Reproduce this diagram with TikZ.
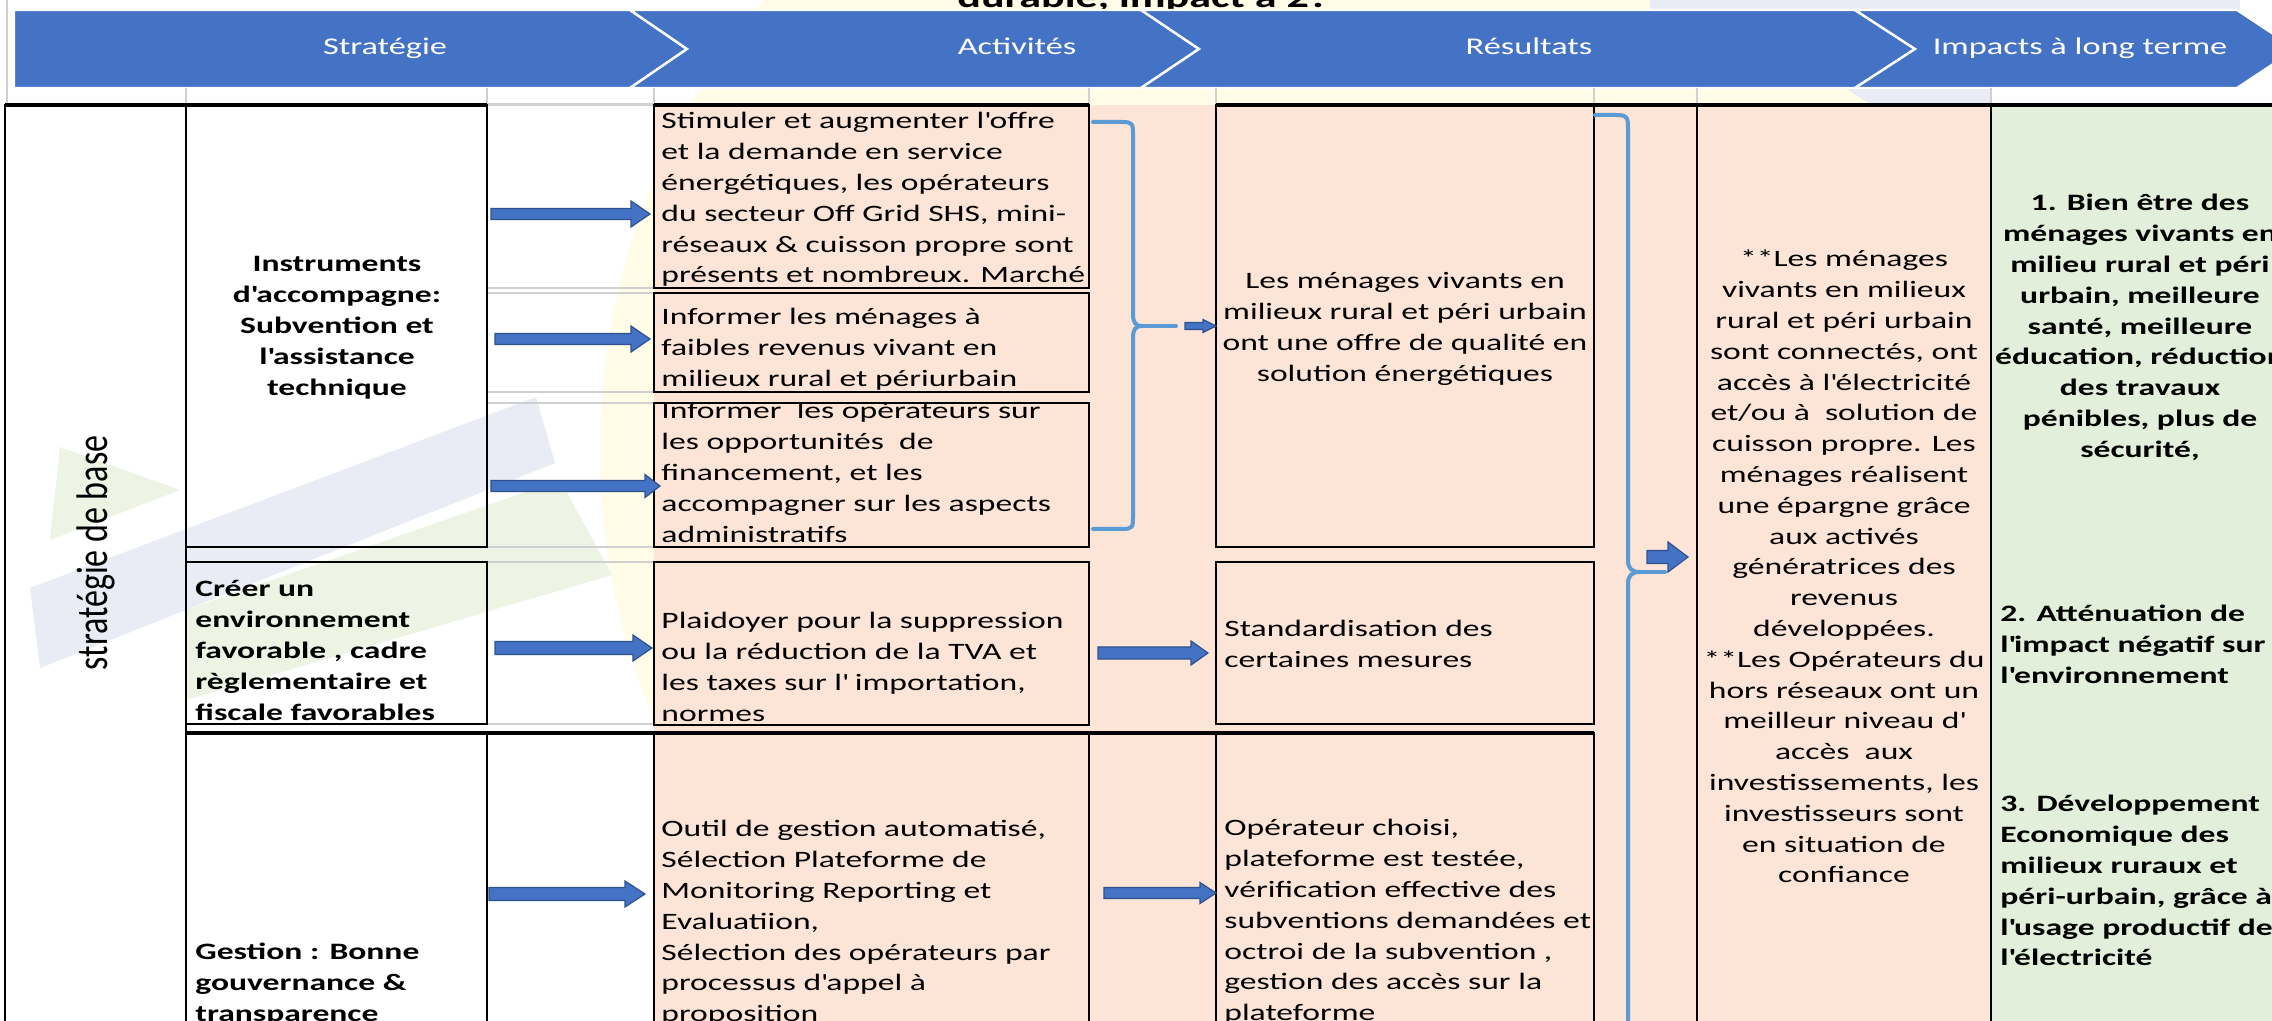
\documentclass[tikz,border=0pt]{standalone}
\usepackage{graphicx}
\usepackage{fontspec}
\setmainfont{Carlito}[FakeStretch=1.43]
\newfontfamily\labelfont{Carlito}
\definecolor{bannerblue}{HTML}{4472C4}
\definecolor{peach}{HTML}{FCE4D6}
\definecolor{greenfill}{HTML}{E2EFDA}
\definecolor{arrowblue}{HTML}{4472C4}
\definecolor{arrowedge}{HTML}{2F528F}
\definecolor{bracec}{HTML}{5B9BD5}
\definecolor{gridgrey}{HTML}{D0D0D0}
\definecolor{wmyellow}{HTML}{FFFDE8}
\definecolor{wmblue}{HTML}{E9ECF4}
\definecolor{wmgreen}{HTML}{EDF4E3}
\newcommand{\aq}{\textquotesingle}
\newcommand{\blkarrow}[6]{%
  \filldraw[blockarrow] (#1,{#4-#5}) -- (#2,{#4-#5}) -- (#2,{#4-#6}) -- (#3,#4) -- (#2,{#4+#6}) -- (#2,{#4+#5}) -- (#1,{#4+#5}) -- cycle;}
\begin{document}
\begin{tikzpicture}[x=0.5pt,y=-0.5pt,
  body/.style={inner sep=0pt, font=\fontsize{11.75pt}{15.4pt}\selectfont},
  bodyb/.style={inner sep=0pt, font=\fontsize{11.75pt}{15.4pt}\selectfont\bfseries},
  bannertxt/.style={inner sep=0pt, text=white, font=\fontsize{12pt}{14pt}\selectfont},
  seg/.style={fill=bannerblue, draw=white, line width=1.2pt, line join=miter},
  blk/.style={draw=black, line width=1.4pt},
  thickblk/.style={draw=black, line width=2.2pt},
  gridl/.style={draw=gridgrey, line width=1pt},
  bracel/.style={draw=bracec, line width=2pt, line cap=round},
  blockarrow/.style={fill=arrowblue, draw=arrowedge, line width=0.6pt, line join=miter}
]
\useasboundingbox (0,0) rectangle (2272,1021);
\clip (0,0) rectangle (2272,1021);
\fill[white] (0,0) rectangle (2272,1021);
% watermark
\fill[wmyellow] (1300,450) circle[radius=350pt];
\fill[wmblue] (30,588) -- (536,397) -- (555,463) -- (40,668) -- cycle;
\fill[wmgreen] (60,447) -- (180,490) -- (50,540) -- cycle;
\fill[wmgreen] (186,610) -- (560,480) -- (612,575) -- (186,700) -- cycle;
\fill[wmblue] (1845,88) -- (1990,88) -- (1990,104) -- (1870,104) -- cycle;
\fill[wmblue] (1650,0) rectangle (2240,10);

% title (cut at top)
\node[inner sep=0pt, anchor=base west, font=\fontsize{15.4pt}{18pt}\selectfont\bfseries] (title) at (957,8) {durable, impact à 2?};

% banner
\path[seg] (14,10) -- (630,10) -- (687,49) -- (630,88) -- (14,88) -- cycle;
\path[seg] (630,10) -- (1141,10) -- (1199,49) -- (1141,88) -- (630,88) -- (687,49) -- cycle;
\path[seg] (1141,10) -- (1855,10) -- (1915,49) -- (1855,88) -- (1141,88) -- (1199,49) -- cycle;
\path[seg] (1855,10) -- (2237,10) -- (2296,49) -- (2237,88) -- (1855,88) -- (1915,49) -- cycle;
\node[bannertxt, anchor=base] (bStrat) at (385,55) {Stratégie};
\node[bannertxt, anchor=base] (bAct) at (1017,55) {Activités};
\node[bannertxt, anchor=base] (bRes) at (1529,55) {Résultats};
\node[bannertxt, anchor=base] (bImp) at (2080,55) {Impacts à long terme};

% fills
\fill[peach] (654,105) rectangle (1991,1030);
\fill[greenfill] (1991,105) rectangle (2280,1030);

% grey grid lines
\foreach \gx in {186,487,654,1089,1216,1594,1697,1991} {\draw[gridl] (\gx,88) -- (\gx,105);}
\draw[gridl] (7,0) -- (7,105);
\foreach \gy in {288,293,392,403,547,562,724} {\draw[gridl] (487,\gy) -- (654,\gy);}
\draw[gridgrey, line width=1.5pt] (487,105) -- (654,105);

% rotated label
\node[rotate=90, inner sep=0pt, font=\labelfont\fontsize{17pt}{19pt}\selectfont] (lbl) at (96,553) {\scalebox{1}[1.3]{stratégie de base}};

% strategy texts
\node[bodyb, anchor=north, align=center] (sInst) at (337,250) {\strut Instruments\\ d\aq accompagne:\\ Subvention et\\ l\aq assistance\\ technique\strut};
\node[bodyb, anchor=north west, align=left] (sCreer) at (195,575) {\strut Créer un\\ environnement\\ favorable , cadre\\ règlementaire et\\ fiscale favorables\strut};
\node[bodyb, anchor=north west, align=left] (sGest) at (195,938) {\strut Gestion : Bonne\\ gouvernance \&\\ transparence\strut};

% activities texts
\begin{scope}
\clip (654,105) rectangle (1089,288);
\node[body, anchor=north west, align=left] (aStim) at (661,107) {\strut Stimuler et augmenter l\aq offre\\ et la demande en service\\ énergétiques, les opérateurs\\ du secteur Off Grid SHS, mini-\\ réseaux \& cuisson propre sont\\ présents et nombreux. Marché\strut};
\end{scope}
\node[body, anchor=north west, align=left] (aInf1) at (661,303) {\strut Informer les ménages à\\ faibles revenus vivant en\\ milieux rural et périurbain\strut};
\begin{scope}
\clip (654,403) rectangle (1089,547);
\node[body, anchor=north west, align=left] (aInf2) at (661,397) {\strut Informer\ \ les opérateurs sur\\ les opportunités\ \ de\\ financement, et les\\ accompagner sur les aspects\\ administratifs\strut};
\end{scope}
\node[body, anchor=north west, align=left] (aPlai) at (661,607) {\strut Plaidoyer pour la suppression\\ ou la réduction de la TVA et\\ les taxes sur l\aq{} importation,\\ normes\strut};
\node[body, anchor=north west, align=left] (aOutil) at (661,815) {\strut Outil de gestion automatisé,\\ Sélection Plateforme de\\ Monitoring Reporting et\\ Evaluatiion,\\ Sélection des opérateurs par\\ processus d\aq appel à\\ proposition\strut};

% results texts
\node[body, anchor=north, align=center] (rLes) at (1405,267) {\strut Les ménages vivants en\\ milieux rural et péri urbain\\ ont une offre de qualité en\\ solution énergétiques\strut};
\node[body, anchor=north west, align=left] (rStand) at (1224,615) {\strut Standardisation des\\ certaines mesures\strut};
\node[body, anchor=north west, align=left] (rOper) at (1224,814) {\strut Opérateur choisi,\\ plateforme est testée,\\ vérification effective des\\ subventions demandées et\\ octroi de la subvention ,\\ gestion des accès sur la\\ plateforme\strut};

% middle column
\node[body, anchor=north, align=center] (mLes) at (1844,245) {\strut **Les ménages\\ vivants en milieux\\ rural et péri urbain\\ sont connectés, ont\\ accès à l\aq électricité\\ et/ou à\ \ solution de\\ cuisson propre. Les\\ ménages réalisent\\ une épargne grâce\\ aux activés\\ génératrices des\\ revenus\\ développées.\\ **Les Opérateurs du\\ hors réseaux ont un\\ meilleur niveau d\aq\\ accès\ \ aux\\ investissements, les\\ investisseurs sont\\ en situation de\\ confiance\strut};

% impacts column
\node[bodyb, anchor=north, align=center] (g1) at (2140,189) {\strut 1. Bien être des\\ ménages vivants en\\ milieu rural et péri\\ urbain, meilleure\\ santé, meilleure\\ éducation, réduction\\ des travaux\\ pénibles, plus de\\ sécurité,\strut};
\node[bodyb, anchor=north west, align=left] (g2) at (2000,600) {\strut 2. Atténuation de\\ l\aq impact négatif sur\\ l\aq environnement\strut};
\node[bodyb, anchor=north west, align=left] (g3) at (2000,790) {\strut 3. Développement\\ Economique des\\ milieux ruraux et\\ péri-urbain, grâce à\\ l\aq usage productif de\\ l\aq électricité\strut};

% black borders
\draw[blk] (5,105) rectangle (186,1030);
\draw[blk] (186,105) rectangle (487,547);
\draw[blk] (186,562) rectangle (487,724);
\draw[blk] (186,733) rectangle (487,1030);
\draw[blk] (654,105) rectangle (1089,288);
\draw[blk] (654,293) rectangle (1089,392);
\draw[blk] (654,403) rectangle (1089,547);
\draw[blk] (654,562) rectangle (1089,725);
\draw[blk] (654,734) rectangle (1089,1030);
\draw[blk] (1216,105) rectangle (1594,547);
\draw[blk] (1216,562) rectangle (1594,724);
\draw[blk] (1216,733) rectangle (1594,1030);
\draw[blk] (1697,105) rectangle (1991,1030);
\draw[thickblk] (5,105) -- (487,105);
\draw[thickblk] (654,105) -- (1089,105);
\draw[thickblk] (1216,105) -- (2272,105);
\draw[thickblk] (186,733) -- (1594,733);

% braces
\draw[bracel] (1093,122) -- (1122,122) .. controls (1133,122) and (1133,124) .. (1133,135) -- (1133,314) .. controls (1133,322) and (1135,326) .. (1142,326) .. controls (1135,326) and (1133,330) .. (1133,338) -- (1133,516) .. controls (1133,527) and (1133,529) .. (1122,529) -- (1093,529);
\draw[bracel] (1142,326) -- (1176,326);
\draw[bracel] (1595,115) -- (1616,115) .. controls (1628,115) and (1628,118) .. (1628,130) -- (1628,560) .. controls (1628,568) and (1631,572) .. (1640,572) .. controls (1631,572) and (1628,576) .. (1628,584) -- (1628,1030);
\draw[bracel] (1640,572) -- (1665,572);

% block arrows
\blkarrow{491}{631}{650}{214}{5.5}{13}
\blkarrow{495}{631}{650}{339}{5.5}{13}
\blkarrow{491}{645}{660}{486}{5.5}{11.5}
\blkarrow{495}{633}{652}{648}{6.5}{13}
\blkarrow{489}{625}{645}{894}{6.5}{13}
\blkarrow{1098}{1191}{1208}{653}{6}{12}
\blkarrow{1104}{1200}{1216}{893}{5.5}{10.5}
\blkarrow{1185}{1203}{1216}{326}{3.5}{6.5}
\blkarrow{1647}{1668}{1688}{557}{6.5}{15}
\end{tikzpicture}
\end{document}
